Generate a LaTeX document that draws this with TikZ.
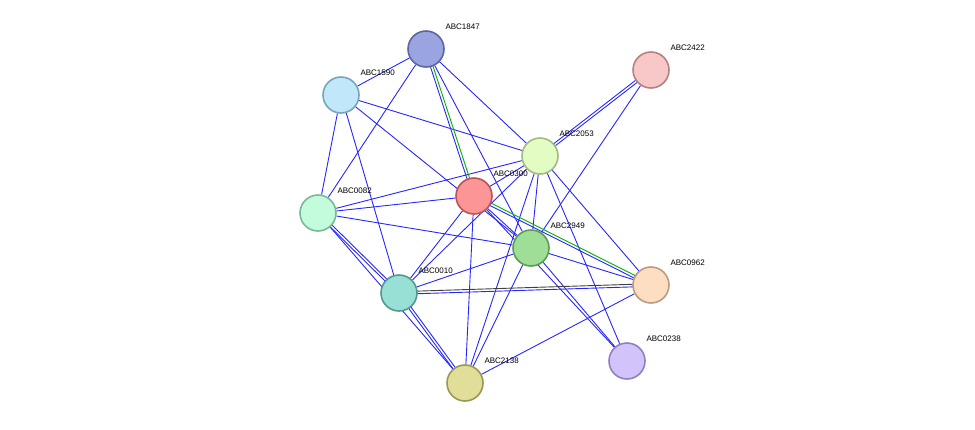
\documentclass[tikz,border=0pt]{standalone}
\usepackage{fontspec}
\setmainfont{Liberation Sans}
\usetikzlibrary{calc,backgrounds}
\newcommand{\twin}[3]{%
  \draw[#3] ($(#1)!1.3pt!90:(#2)$) -- ($(#2)!1.3pt!-90:(#1)$);
  \draw[link] ($(#1)!1.3pt!-90:(#2)$) -- ($(#2)!1.3pt!90:(#1)$);}

\begin{document}
\begin{tikzpicture}[x=1pt,y=-1pt,
  prot/.style={circle,minimum size=36pt,inner sep=0pt,line width=1.6pt},
  link/.style={draw=blue!85,line width=0.9pt},
  tag/.style={font=\fontsize{8}{9}\selectfont,anchor=west}]
  \useasboundingbox (0,0) rectangle (975,429);

  \node[prot,fill={rgb,255:red,154;green,164;blue,224},draw={rgb,255:red,92;green,102;blue,158}] (ABC1847) at (426,49) {};
  \node[prot,fill={rgb,255:red,248;green,200;blue,200},draw={rgb,255:red,180;green,130;blue,130}] (ABC2422) at (651,70) {};
  \node[prot,fill={rgb,255:red,192;green,232;blue,250},draw={rgb,255:red,122;green,164;blue,190}] (ABC1590) at (341,95) {};
  \node[prot,fill={rgb,255:red,226;green,252;blue,196},draw={rgb,255:red,160;green,186;blue,128}] (ABC2053) at (540,156) {};
  \node[prot,fill={rgb,255:red,252;green,150;blue,150},draw={rgb,255:red,186;green,84;blue,84}] (ABC0300) at (474,196) {};
  \node[prot,fill={rgb,255:red,194;green,252;blue,220},draw={rgb,255:red,122;green,184;blue,150}] (ABC0082) at (318,213) {};
  \node[prot,fill={rgb,255:red,158;green,222;blue,150},draw={rgb,255:red,92;green,156;blue,86}] (ABC2949) at (531,248) {};
  \node[prot,fill={rgb,255:red,254;green,222;blue,194},draw={rgb,255:red,186;green,156;blue,128}] (ABC0962) at (651,285) {};
  \node[prot,fill={rgb,255:red,152;green,224;blue,214},draw={rgb,255:red,84;green,152;blue,142}] (ABC0010) at (399,293) {};
  \node[prot,fill={rgb,255:red,210;green,196;blue,250},draw={rgb,255:red,146;green,128;blue,190}] (ABC0238) at (627,361) {};
  \node[prot,fill={rgb,255:red,224;green,222;blue,152},draw={rgb,255:red,154;green,152;blue,84}] (ABC2138) at (465,383) {};

  \foreach \p in {ABC1847,ABC2422,ABC1590,ABC2053,ABC0300,ABC0082,ABC2949,ABC0962,ABC0010,ABC0238,ABC2138}
    \node[tag] at ($(\p)+(16,-22)$) {\p};

  \begin{scope}[on background layer]
    \foreach \a/\b in {ABC1847/ABC1590,ABC1847/ABC0082,ABC1847/ABC2053,ABC1847/ABC2949,
      ABC1590/ABC0082,ABC1590/ABC0010,ABC1590/ABC2949,ABC1590/ABC2053,
      ABC2422/ABC2949,ABC2053/ABC0082,ABC2053/ABC0300,ABC2053/ABC0010,ABC2053/ABC2949,
      ABC2053/ABC2138,ABC2053/ABC0962,ABC2053/ABC0238,ABC0300/ABC0082,ABC0300/ABC0010,
      ABC0300/ABC2138,ABC0300/ABC2949,ABC0300/ABC0238,ABC0082/ABC2949,ABC0082/ABC2138,
      ABC2949/ABC0010,ABC2949/ABC0962,ABC2949/ABC0238,ABC2949/ABC2138,ABC0962/ABC2138}
      \draw[link] (\a) -- (\b);
    \twin{ABC1847}{ABC0300}{green!70!black,line width=0.9pt}
    \twin{ABC0300}{ABC0962}{green!70!black,line width=0.9pt}
    \twin{ABC0010}{ABC0962}{black!75,line width=0.9pt}
    \twin{ABC2422}{ABC2053}{link}
    \twin{ABC0082}{ABC0010}{link}
    \twin{ABC0010}{ABC2138}{link}
  \end{scope}
\end{tikzpicture}
\end{document}
